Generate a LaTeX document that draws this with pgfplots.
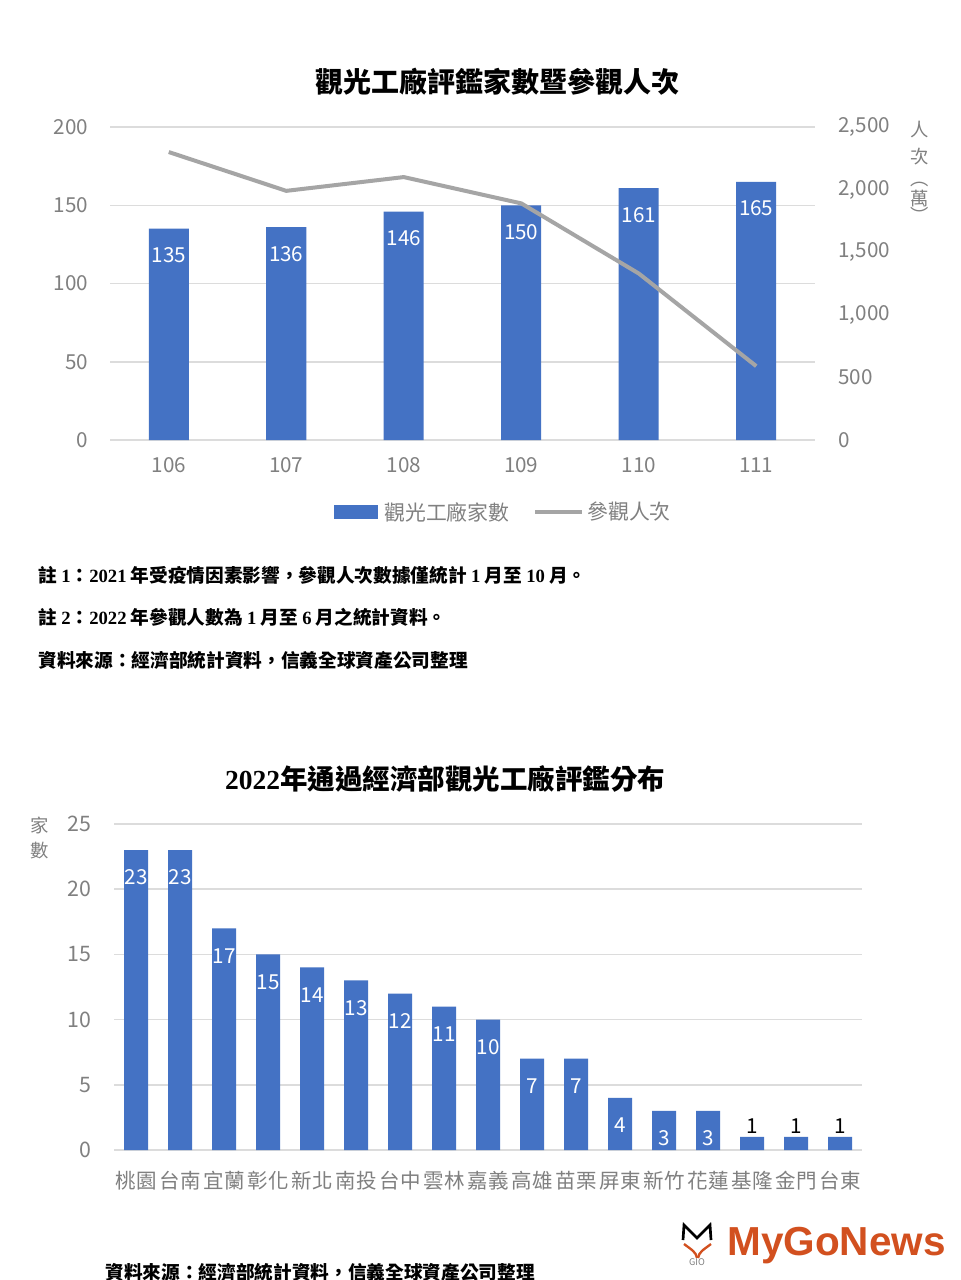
\documentclass[border=0pt]{standalone}
\usepackage{fontspec}
\usepackage{pgfplots}
\pgfplotsset{compat=1.18}
\setmainfont{Noto Sans CJK TC}
\newfontfamily\tnr{Liberation Serif}
\newfontfamily\logofont{Liberation Sans}

\definecolor{barblue}{HTML}{4472C4}
\definecolor{linegray}{HTML}{A5A5A5}
\definecolor{tickgray}{HTML}{808080}
\definecolor{gridgray}{HTML}{DCDCDC}
\definecolor{logored}{HTML}{D2501F}

\newcommand\fs[1]{\fontsize{#1}{#1}\selectfont}
\newcommand\n[1]{{\tnr\bfseries #1}}

\pgfplotsset{
  common/.style={
    scale only axis,
    axis line style={draw=none},
    major tick length=0pt,
    tick label style={text=tickgray, inner sep=0pt},
    /pgf/number format/assume math mode=true,
    scaled y ticks=false,
  },
}

\begin{document}
\begin{tikzpicture}
\path[fill=white, use as bounding box] (0,0) rectangle (576pt,-768pt);

% ---------- chart 1: factories (left axis) ----------
\begin{axis}[common,
  at={(66pt,-264pt)}, anchor=south west,
  width=423pt, height=187.8pt,
  xmin=105.5, xmax=111.5, ymin=0, ymax=200,
  xtick={106,...,111}, ytick={0,50,...,200},
  ymajorgrids, grid style={gridgray, line width=0.9pt},
  tick label style={font=\fs{12.4}},
  yticklabel style={anchor=east, xshift=-13pt},
  xticklabel style={anchor=north, yshift=-10.5pt},
]
\addplot[ybar, bar width=24pt, bar shift=0pt, fill=barblue, draw=none,
  nodes near coords, nodes near coords align=center,
  every node near coord/.append style={yshift=-16pt, text=white, font=\fs{12.4}}]
  coordinates {(106,135) (107,136) (108,146) (109,150) (110,161) (111,165)};
\end{axis}

% ---------- chart 1: visitors (right axis) ----------
\begin{axis}[common,
  at={(66pt,-264pt)}, anchor=south west,
  width=423pt, height=187.8pt,
  xmin=105.5, xmax=111.5, ymin=0, ymax=2500,
  hide x axis, axis y line*=right,
  ytick={0,500,...,2500},
  tick label style={font=\fs{12.4}},
  yticklabel style={anchor=west, xshift=13.8pt},
]
\addplot[linegray, line width=2.4pt]
  coordinates {(106,2300) (107,1990) (108,2100) (109,1890) (110,1330) (111,590)};
\end{axis}

% ---------- chart 2 ----------
\begin{axis}[common,
  at={(68.4pt,-690pt)}, anchor=south west,
  width=448.8pt, height=195.6pt,
  xmin=-0.5, xmax=16.5, ymin=0, ymax=25,
  xtick={0,...,16},
  xticklabels={桃園,台南,宜蘭,彰化,新北,南投,台中,雲林,嘉義,高雄,苗栗,屏東,新竹,花蓮,基隆,金門,台東},
  ytick={0,5,...,25},
  ymajorgrids, grid style={gridgray, line width=0.9pt},
  yticklabel style={font=\fs{12.8}, anchor=east, xshift=-13.2pt},
  xticklabel style={font=\fs{12.3}, anchor=north, yshift=-12.6pt},
]
\addplot[ybar, bar width=14.4pt, bar shift=0pt, fill=barblue, draw=none,
  nodes near coords, nodes near coords align=center,
  every node near coord/.append style={yshift=-16.5pt, text=white, font=\fs{12.4}}]
  coordinates {(0,23) (1,23) (2,17) (3,15) (4,14) (5,13) (6,12) (7,11) (8,10)
               (9,7) (10,7) (11,4) (12,3) (13,3)};
\addplot[ybar, bar width=14.4pt, bar shift=0pt, fill=barblue, draw=none,
  nodes near coords, nodes near coords align=center,
  every node near coord/.append style={yshift=6.6pt, text=black, font=\fs{12.4}}]
  coordinates {(14,1) (15,1) (16,1)};
\end{axis}

% ---------- texts ----------
\begin{scope}[x=0.6pt, y=-0.6pt]
\node[font=\fs{16.8}\bfseries] at (497,82) {觀光工廠評鑑家數暨參觀人次};

% right axis title, stacked
\begin{scope}[every node/.style={text=tickgray, font=\fs{11}, inner sep=0pt}]
\node at (920,130) {人};
\node at (920,157) {次};
\node at (920,184) {︵};
\node at (920,199) {萬};
\node at (920,215) {︶};
\node at (40,825) {家};
\node at (40,851) {數};
\end{scope}

% legend
\fill[barblue] (334,505) rectangle (378,519);
\node[anchor=west, text=tickgray, font=\fs{12.5}, inner sep=0pt] at (384,512) {觀光工廠家數};
\draw[linegray, line width=2.4pt] (535,512) -- (582,512);
\node[anchor=west, text=tickgray, font=\fs{12.5}, inner sep=0pt] at (587,512) {參觀人次};

% notes
\begin{scope}[every node/.style={anchor=west, inner sep=0pt, font=\fs{11.2}\bfseries}]
\node at (38,575) {註 \n{1}：\n{2021} 年受疫情因素影響，參觀人次數據僅統計 \n{1} 月至 \n{10} 月。};
\node at (38,617) {註 \n{2}：\n{2022} 年參觀人數為 \n{1} 月至 \n{6} 月之統計資料。};
\node at (38,660) {資料來源：經濟部統計資料，信義全球資產公司整理};
\node at (105,1272) {資料來源：經濟部統計資料，信義全球資產公司整理};
\end{scope}

\node[font=\fs{16.5}\bfseries] at (445,779) {\n{2022}年通過經濟部觀光工廠評鑑分布};

% logo
\draw[black, line width=1.6pt] (683,1240) -- (684,1225) -- (697,1238) -- (710,1225) -- (711,1240);
\draw[logored, line width=1.4pt] (684,1244) .. controls (692,1250) and (696,1252) .. (697,1258);
\draw[logored, line width=1.4pt] (711,1244) .. controls (703,1250) and (699,1252) .. (698,1258);
\node[text=tickgray, font=\fs{5.5}, inner sep=0pt] at (697,1262) {GIO};
\node[anchor=base west, inner sep=0pt, text=logored, font=\logofont\bfseries\fs{24.3}] at (727,1255) {MyGoNews};
\end{scope}
\end{tikzpicture}
\end{document}
